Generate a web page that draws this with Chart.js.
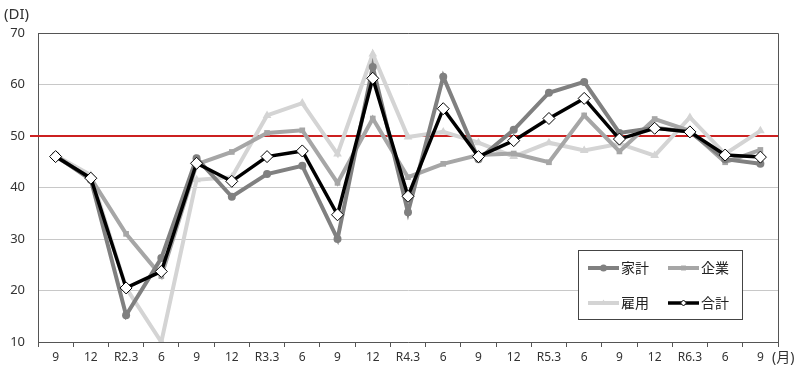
<!DOCTYPE html>
<html><head><meta charset="utf-8">
<script src="https://cdn.jsdelivr.net/npm/chart.js@4/dist/chart.umd.min.js"></script>
<style>html,body{margin:0;padding:0;background:#fff}#wrap{position:relative;width:800px;height:371px}</style>
</head><body><div id="wrap"><canvas id="c" width="800" height="371"></canvas></div>
<script>
const categories = ['9','12','R2.3','6','9','12','R3.3','6','9','12','R4.3','6','9','12','R5.3','6','9','12','R6.3','6','9'];
const kakei  = [46.2,41.5,15.2,26.3,45.7,38.2,42.6,44.2,30.0,63.4,35.2,61.5,45.5,51.2,58.4,60.5,50.6,51.6,50.8,45.5,44.6];
const kigyo  = [46.0,41.8,31.0,22.8,44.5,46.9,50.6,51.1,40.9,53.4,42.0,44.6,46.3,46.6,44.9,54.0,47.0,53.3,51.0,44.9,47.3];
const koyo   = [46.2,42.4,20.5,10.0,41.5,42.0,54.0,56.4,46.5,65.9,49.8,50.8,48.7,46.0,48.7,47.2,48.5,46.2,53.6,46.5,51.0];
const gokei  = [46.0,41.8,20.5,23.7,44.7,41.2,46.0,47.1,34.7,61.2,38.3,55.3,46.0,49.1,53.4,57.3,49.4,51.5,50.8,46.3,45.9];
const yTicks = [10,20,30,40,50,60,70];
const baseline = 50;

const FONT = '"Noto Sans","Noto Sans CJK JP",sans-serif';
const C_KAKEI='#808080', C_KIGYO='#a6a6a6', C_KOYO='#d4d4d4', C_GOKEI='#000000';

const framePlugin = {
  id:'frame',
  beforeDatasetsDraw(chart){
    const {ctx, chartArea:a, scales:{y}} = chart;
    const py = y.getPixelForValue(baseline);
    ctx.save();
    ctx.strokeStyle='#cc2020'; ctx.lineWidth=2;
    ctx.beginPath(); ctx.moveTo(a.left-8, py); ctx.lineTo(a.right, py); ctx.stroke();
    ctx.restore();
  },
  afterDraw(chart){
    const {ctx, chartArea:a} = chart;
    ctx.save();
    ctx.strokeStyle='#555'; ctx.lineWidth=1;
    ctx.beginPath();
    ctx.moveTo(a.left, a.top+0.5); ctx.lineTo(a.right+0.5, a.top+0.5); ctx.lineTo(a.right+0.5, a.bottom);
    ctx.stroke();
    ctx.fillStyle='#333';
    ctx.font='15px '+FONT;
    ctx.textBaseline='middle';
    ctx.textAlign='left';
    ctx.fillText('(DI)', 4, 15);
    ctx.font='14px '+FONT;
    ctx.fillText('(月)', 772, 358);
    // legend
    const bx=578, by=250, bw=164, bh=69;
    ctx.fillStyle='#fff'; ctx.fillRect(bx,by,bw,bh);
    ctx.strokeStyle='#444'; ctx.lineWidth=1; ctx.strokeRect(bx+0.5,by+0.5,bw,bh);
    const items = [
      {t:'家計', c:C_KAKEI, s:'circle', x:588, y:268},
      {t:'企業', c:C_KIGYO, s:'rect', x:668, y:268},
      {t:'雇用', c:C_KOYO, s:'triangle', x:588, y:303},
      {t:'合計', c:C_GOKEI, s:'diamond', x:668, y:303},
    ];
    items.forEach(it=>{
      ctx.strokeStyle=it.c; ctx.lineWidth=it.s==='diamond'?3.5:4;
      ctx.beginPath(); ctx.moveTo(it.x, it.y); ctx.lineTo(it.x+31, it.y); ctx.stroke();
      let opts;
      if (it.s==='diamond'){
        opts = {pointStyle:'rectRot', radius:3, borderWidth:1};
        ctx.fillStyle='#fff'; ctx.strokeStyle='#000'; ctx.lineWidth=1;
      } else {
        opts = {pointStyle:it.s, radius:3.5, borderWidth:0};
        ctx.fillStyle=it.c; ctx.strokeStyle=it.c; ctx.lineWidth=1;
      }
      Chart.helpers.drawPoint(ctx, opts, it.x+15.5, it.y);
      ctx.fillStyle='#222'; ctx.font='14px "Noto Sans CJK JP",sans-serif';
      ctx.textAlign='left'; ctx.textBaseline='middle';
      ctx.fillText(it.t, it.x+33, it.y);
    });
    ctx.restore();
  }
};

new Chart(document.getElementById('c'), {
  type:'line',
  data:{
    labels: categories,
    datasets:[
      {label:'合計', data:gokei, borderColor:C_GOKEI, borderWidth:3.5, pointStyle:'rectRot', pointRadius:6, pointBorderWidth:1, pointBackgroundColor:'#fff', pointBorderColor:'#000', order:0},
      {label:'家計', data:kakei, borderColor:C_KAKEI, backgroundColor:C_KAKEI, borderWidth:4, pointStyle:'circle', pointRadius:4, pointBorderWidth:0, order:1},
      {label:'企業', data:kigyo, borderColor:C_KIGYO, backgroundColor:C_KIGYO, borderWidth:4, pointStyle:'rect', pointRadius:4, pointBorderWidth:0, order:2},
      {label:'雇用', data:koyo, borderColor:C_KOYO, backgroundColor:C_KOYO, borderWidth:4, pointStyle:'triangle', pointRadius:5, pointBorderWidth:0, order:3},
    ]
  },
  options:{
    responsive:false, animation:false,
    layout:{padding:{top:33, right:22, left:0, bottom:0}},
    plugins:{legend:{display:false}, tooltip:{enabled:false}, title:{display:false}},
    elements:{line:{tension:0}},
    scales:{
      x:{
        type:'category', offset:true,
        grid:{drawOnChartArea:false, offset:true, tickLength:5, color:'#555'},
        border:{color:'#555', width:1},
        ticks:{font:{family:FONT, size:12}, color:'#333', padding:3, maxRotation:0, autoSkip:false},
        afterFit(s){ s.height = 29; }
      },
      y:{
        min:10, max:70,
        afterBuildTicks(s){ s.ticks = yTicks.map(v=>({value:v})); },
        grid:{color:'#c8c8c8', lineWidth:1, drawTicks:false},
        border:{color:'#555', width:1},
        ticks:{font:{family:FONT, size:13}, color:'#333', padding:13},
        afterFit(s){ s.width = 38; }
      }
    }
  },
  plugins:[framePlugin]
});
</script></body></html>
